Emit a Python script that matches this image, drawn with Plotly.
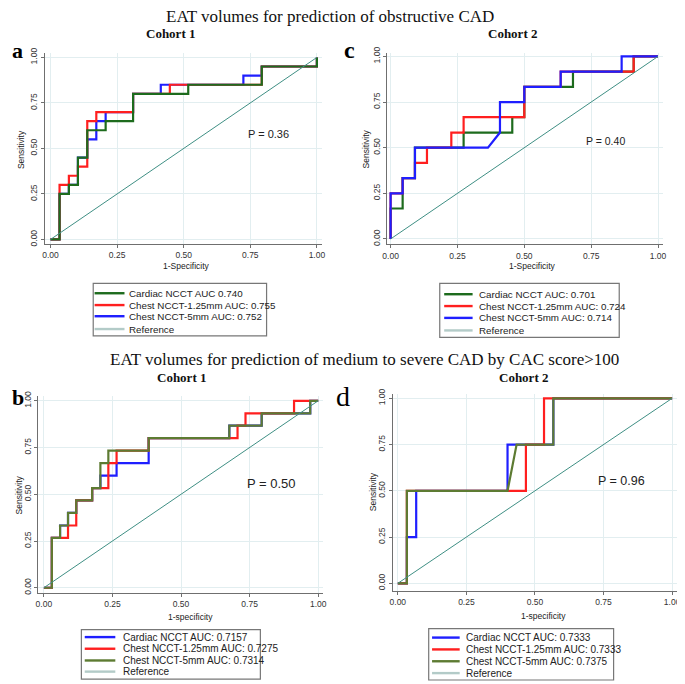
import plotly.graph_objects as go

W, H = 685, 684
OFF = 8  # the page body has an 8px margin, so the figure starts at (8, 8)

# ---- data ----
# panel a : obstructive CAD, cohort 1
a_cardiac_x = [0, 0.034, 0.034, 0.069, 0.069, 0.103, 0.103, 0.138, 0.138, 0.207, 0.207, 0.310, 0.310, 0.517, 0.517, 0.793, 0.793, 1.0, 1.0]
a_cardiac_y = [0, 0, 0.25, 0.25, 0.30, 0.30, 0.45, 0.45, 0.60, 0.60, 0.65, 0.65, 0.80, 0.80, 0.85, 0.85, 0.95, 0.95, 1.0]
a_chest125_x = [0, 0.034, 0.034, 0.069, 0.069, 0.103, 0.103, 0.138, 0.138, 0.172, 0.172, 0.310, 0.310, 0.448, 0.448, 0.793, 0.793, 1.0, 1.0]
a_chest125_y = [0, 0, 0.30, 0.30, 0.35, 0.35, 0.40, 0.40, 0.65, 0.65, 0.70, 0.70, 0.80, 0.80, 0.85, 0.85, 0.95, 0.95, 1.0]
a_chest5_x = [0, 0.034, 0.034, 0.069, 0.069, 0.103, 0.103, 0.138, 0.138, 0.172, 0.172, 0.207, 0.207, 0.310, 0.310, 0.414, 0.414, 0.724, 0.724, 0.793, 0.793, 1.0, 1.0]
a_chest5_y = [0, 0, 0.25, 0.25, 0.30, 0.30, 0.45, 0.45, 0.55, 0.55, 0.65, 0.65, 0.70, 0.70, 0.80, 0.80, 0.85, 0.85, 0.90, 0.90, 0.95, 0.95, 1.0]

# panel c : obstructive CAD, cohort 2
c_cardiac_x = [0, 0, 0.045, 0.045, 0.091, 0.091, 0.273, 0.273, 0.455, 0.455, 0.5, 0.5, 0.682, 0.682, 0.909, 0.909, 1.0]
c_cardiac_y = [0, 0.167, 0.167, 0.333, 0.333, 0.5, 0.5, 0.583, 0.583, 0.667, 0.667, 0.833, 0.833, 0.917, 0.917, 1.0, 1.0]
c_chest125_x = [0, 0, 0.045, 0.045, 0.091, 0.091, 0.136, 0.136, 0.227, 0.227, 0.273, 0.273, 0.5, 0.5, 0.636, 0.636, 0.909, 0.909, 1.0]
c_chest125_y = [0, 0.25, 0.25, 0.333, 0.333, 0.417, 0.417, 0.5, 0.5, 0.583, 0.583, 0.667, 0.667, 0.833, 0.833, 0.917, 0.917, 1.0, 1.0]
c_chest5_x = [0, 0, 0.045, 0.045, 0.091, 0.091, 0.364, 0.409, 0.409, 0.5, 0.5, 0.636, 0.636, 0.864, 0.864, 1.0]
c_chest5_y = [0, 0.25, 0.25, 0.333, 0.333, 0.5, 0.5, 0.583, 0.75, 0.75, 0.833, 0.833, 0.917, 0.917, 1.0, 1.0]

# panel b : CAC score>100, cohort 1
b_cardiac_x = [0, 0.029, 0.029, 0.059, 0.059, 0.088, 0.088, 0.118, 0.118, 0.176, 0.176, 0.206, 0.206, 0.265, 0.265, 0.382, 0.382, 0.676, 0.676, 0.794, 0.794, 0.971, 0.971, 1.0]
b_cardiac_y = [0, 0, 0.267, 0.267, 0.333, 0.333, 0.400, 0.400, 0.467, 0.467, 0.533, 0.533, 0.600, 0.600, 0.667, 0.667, 0.800, 0.800, 0.867, 0.867, 0.933, 0.933, 1.0, 1.0]
b_chest125_x = [0, 0.029, 0.029, 0.088, 0.088, 0.118, 0.118, 0.176, 0.176, 0.235, 0.235, 0.265, 0.265, 0.382, 0.382, 0.706, 0.706, 0.735, 0.735, 0.912, 0.912, 1.0]
b_chest125_y = [0, 0, 0.267, 0.267, 0.333, 0.333, 0.467, 0.467, 0.533, 0.533, 0.667, 0.667, 0.733, 0.733, 0.800, 0.800, 0.867, 0.867, 0.933, 0.933, 1.0, 1.0]
b_chest5_x = [0, 0.029, 0.029, 0.059, 0.059, 0.088, 0.088, 0.118, 0.118, 0.176, 0.176, 0.206, 0.206, 0.235, 0.235, 0.382, 0.382, 0.676, 0.676, 0.794, 0.794, 0.971, 0.971, 1.0]
b_chest5_y = [0, 0, 0.267, 0.267, 0.333, 0.333, 0.400, 0.400, 0.467, 0.467, 0.533, 0.533, 0.667, 0.667, 0.733, 0.733, 0.800, 0.800, 0.867, 0.867, 0.933, 0.933, 1.0, 1.0]

# panel d : CAC score>100, cohort 2
d_cardiac_x = [0, 0.033, 0.033, 0.067, 0.067, 0.4, 0.4, 0.567, 0.567, 1.0]
d_cardiac_y = [0, 0, 0.25, 0.25, 0.5, 0.5, 0.75, 0.75, 1.0, 1.0]
d_chest125_x = [0, 0.033, 0.033, 0.467, 0.467, 0.533, 0.533, 1.0]
d_chest125_y = [0, 0, 0.5, 0.5, 0.75, 0.75, 1.0, 1.0]
d_chest5_x = [0, 0.033, 0.033, 0.4, 0.433, 0.567, 0.567, 1.0]
d_chest5_y = [0, 0, 0.5, 0.5, 0.75, 0.75, 1.0, 1.0]

ref_x = [0, 1]
ref_y = [0, 1]

a_names = ["Cardiac NCCT AUC 0.740", "Chest NCCT-1.25mm AUC: 0.755", "Chest NCCT-5mm AUC: 0.752", "Reference"]
c_names = ["Cardiac NCCT AUC: 0.701", "Chest NCCT-1.25mm AUC: 0.724", "Chest NCCT-5mm AUC: 0.714", "Reference"]
b_names = ["Cardiac NCCT AUC: 0.7157", "Chest NCCT-1.25mm AUC: 0.7275", "Chest NCCT-5mm AUC: 0.7314", "Reference"]
d_names = ["Cardiac NCCT AUC: 0.7333", "Chest NCCT-1.25mm AUC: 0.7333", "Chest NCCT-5mm AUC: 0.7375", "Reference"]

p_values = ["P = 0.36", "P = 0.40", "P = 0.50", "P = 0.96"]
tick_vals = [0, 0.25, 0.5, 0.75, 1]
tick_text = ["0.00", "0.25", "0.50", "0.75", "1.00"]

DKGREEN = "#1d6b1d"
OLIVE = "#5d7b32"
RED = "#ff1f1f"
BLUE = "#1f1fff"
REFC = "#3f8f84"
REF_SWATCH = "#b3cbc8"
SANS = "Liberation Sans"
SERIF = "Liberation Serif"

FW, FH = W - OFF, H - OFF


def px(x):
    return (x - OFF) / FW


def py(y):
    return 1 - (y - OFF) / FH


fig = go.Figure()

# pixel of value 0 / value 1 on each axis, plus axis range
panels = [
    dict(key="", x0=46, x1=316, y0=236.5, y1=52, xr=[-0.022, 1.018], yr=[-0.024, 1.024]),
    dict(key="2", x0=390.7, x1=661.7, y0=236, y1=51, xr=[-0.012, 1.02], yr=[-0.03, 1.02]),
    dict(key="3", x0=39.3, x1=317.3, y0=589.5, y1=400, xr=[-0.0216, 1.016], yr=[-0.0286, 1.0265]),
    dict(key="4", x0=398, x1=676, y0=585, y1=397.5, xr=[-0.019, 1.017], yr=[-0.039, 1.021]),
]

axis_common = dict(
    tickvals=tick_vals, ticktext=tick_text, showline=True, linecolor="#6f6f6f", linewidth=1,
    ticks="outside", ticklen=3, tickcolor="#6f6f6f", gridcolor="#e2eef0", gridwidth=1,
    zeroline=False, tickfont=dict(family=SANS, size=8.5, color="#333"), fixedrange=True,
)

for p in panels:
    sx = p["x1"] - p["x0"]
    sy = p["y0"] - p["y1"]
    left = p["x0"] + p["xr"][0] * sx
    right = p["x0"] + p["xr"][1] * sx
    bottom = p["y0"] - p["yr"][0] * sy
    top = p["y0"] - p["yr"][1] * sy
    k = p["key"]
    fig.layout["xaxis" + k] = dict(axis_common, domain=[px(left), px(right)], range=p["xr"],
                                   anchor="y" + k)
    fig.layout["yaxis" + k] = dict(axis_common, domain=[py(bottom), py(top)], range=p["yr"],
                                   anchor="x" + k, tickangle=-90)


def add_curves(k, curves):
    for xs, ys, col in curves:
        fig.add_trace(go.Scatter(x=xs, y=ys, mode="lines", line=dict(color=col, width=2.2),
                                 xaxis="x" + k, yaxis="y" + k, showlegend=False, hoverinfo="skip"))
    fig.add_trace(go.Scatter(x=ref_x, y=ref_y, mode="lines", line=dict(color=REFC, width=1),
                             xaxis="x" + k, yaxis="y" + k, showlegend=False, hoverinfo="skip"))


# drawing order follows what sits on top in each panel
add_curves("", [(a_chest5_x, a_chest5_y, BLUE), (a_chest125_x, a_chest125_y, RED),
                (a_cardiac_x, a_cardiac_y, DKGREEN)])
add_curves("2", [(c_cardiac_x, c_cardiac_y, DKGREEN), (c_chest125_x, c_chest125_y, RED),
                 (c_chest5_x, c_chest5_y, BLUE)])
add_curves("3", [(b_cardiac_x, b_cardiac_y, BLUE), (b_chest125_x, b_chest125_y, RED),
                 (b_chest5_x, b_chest5_y, OLIVE)])
add_curves("4", [(d_cardiac_x, d_cardiac_y, BLUE), (d_chest125_x, d_chest125_y, RED),
                 (d_chest5_x, d_chest5_y, OLIVE)])

annotations = []
shapes = []


def text(x, y, s, size, family=SANS, color="#222", angle=0):
    annotations.append(dict(x=px(x), y=py(y), xref="paper", yref="paper", text=s, showarrow=False,
                            font=dict(family=family, size=size, color=color), textangle=angle,
                            xanchor="center", yanchor="middle"))


# titles
text(329, 11, "EAT volumes for prediction of obstructive CAD", 17, SERIF, "#111")
text(364, 358, "EAT volumes for prediction of medium to severe CAD by CAC score>100", 17, SERIF, "#111")
text(168, 28, "<b>Cohort 1</b>", 13, SERIF, "#111")
text(514, 28, "<b>Cohort 2</b>", 13, SERIF, "#111")
text(179, 376, "<b>Cohort 1</b>", 13, SERIF, "#111")
text(525, 376, "<b>Cohort 2</b>", 13, SERIF, "#111")
text(13, 45, "<b>a</b>", 22, SERIF, "#000")
text(349, 44, "<b>c</b>", 24, SERIF, "#000")
text(13, 397, "<b>b</b>", 22, SERIF, "#000")
text(342, 396, "d", 28, SERIF, "#000")

# axis titles
text(183.5, 263, "1-Specificity", 8.5)
text(534, 263, "1-Specificity", 8.5)
text(188, 619, "1-specificity", 8.5)
text(546, 618, "1-specificity", 8.5)
text(16, 145, "Sensitivity", 8.5, angle=-90)
text(366, 145, "Sensitivity", 8.5, angle=-90)
text(14, 495, "Sensitivity", 8.5, angle=-90)
text(372.5, 492, "Sensitivity", 8.5, angle=-90)

# P values placed in data coordinates
p_pos = [("", 0.82, 0.58, 11), ("2", 0.805, 0.535, 10.5), ("3", 0.83, 0.555, 13), ("4", 0.817, 0.555, 12.5)]
for (k, xv, yv, fs), s in zip(p_pos, p_values):
    annotations.append(dict(x=xv, y=yv, xref="x" + k, yref="y" + k, text=s, showarrow=False,
                            font=dict(family=SANS, size=fs, color="#222"), xanchor="center"))


# legends (box, swatch, label)
def legend(box, line_x, text_x, rows, names, colors, fs):
    shapes.append(dict(type="rect", xref="paper", yref="paper", x0=px(box[0]), x1=px(box[1]),
                       y0=py(box[3]), y1=py(box[2]), line=dict(color="#777", width=1.2)))
    for r, n, col in zip(rows, names, colors):
        shapes.append(dict(type="line", xref="paper", yref="paper", x0=px(line_x[0]), x1=px(line_x[1]),
                           y0=py(r), y1=py(r), line=dict(color=col, width=2.4)))
        annotations.append(dict(x=px(text_x), y=py(r), xref="paper", yref="paper", text=n, showarrow=False,
                                font=dict(family=SANS, size=fs, color="#222"), xanchor="left",
                                yanchor="middle"))


legend([89.3, 265, 281, 334.3], [90.7, 121], 123.3, [291, 303, 314.3, 327.3], a_names,
       [DKGREEN, RED, BLUE, REF_SWATCH], 9.8)
legend([440.5, 622.4, 281, 335.7], [445, 473.8], 478.3, [292, 304, 316, 328.7], c_names,
       [DKGREEN, RED, BLUE, REF_SWATCH], 9.8)
legend([77.3, 258.7, 632, 682], [80.7, 111.7], 117.7, [639.5, 651.3, 663.2, 674.5], b_names,
       [BLUE, RED, OLIVE, REF_SWATCH], 10)
legend([429.3, 616.7, 631, 683], [432.7, 460.7], 465.3, [640, 652, 664, 676], d_names,
       [BLUE, RED, OLIVE, REF_SWATCH], 10)

fig.update_layout(
    width=FW, height=FH, margin=dict(l=0, r=0, t=0, b=0),
    paper_bgcolor="white", plot_bgcolor="white", showlegend=False,
    annotations=annotations, shapes=shapes,
)

fig.write_html("out.html")
